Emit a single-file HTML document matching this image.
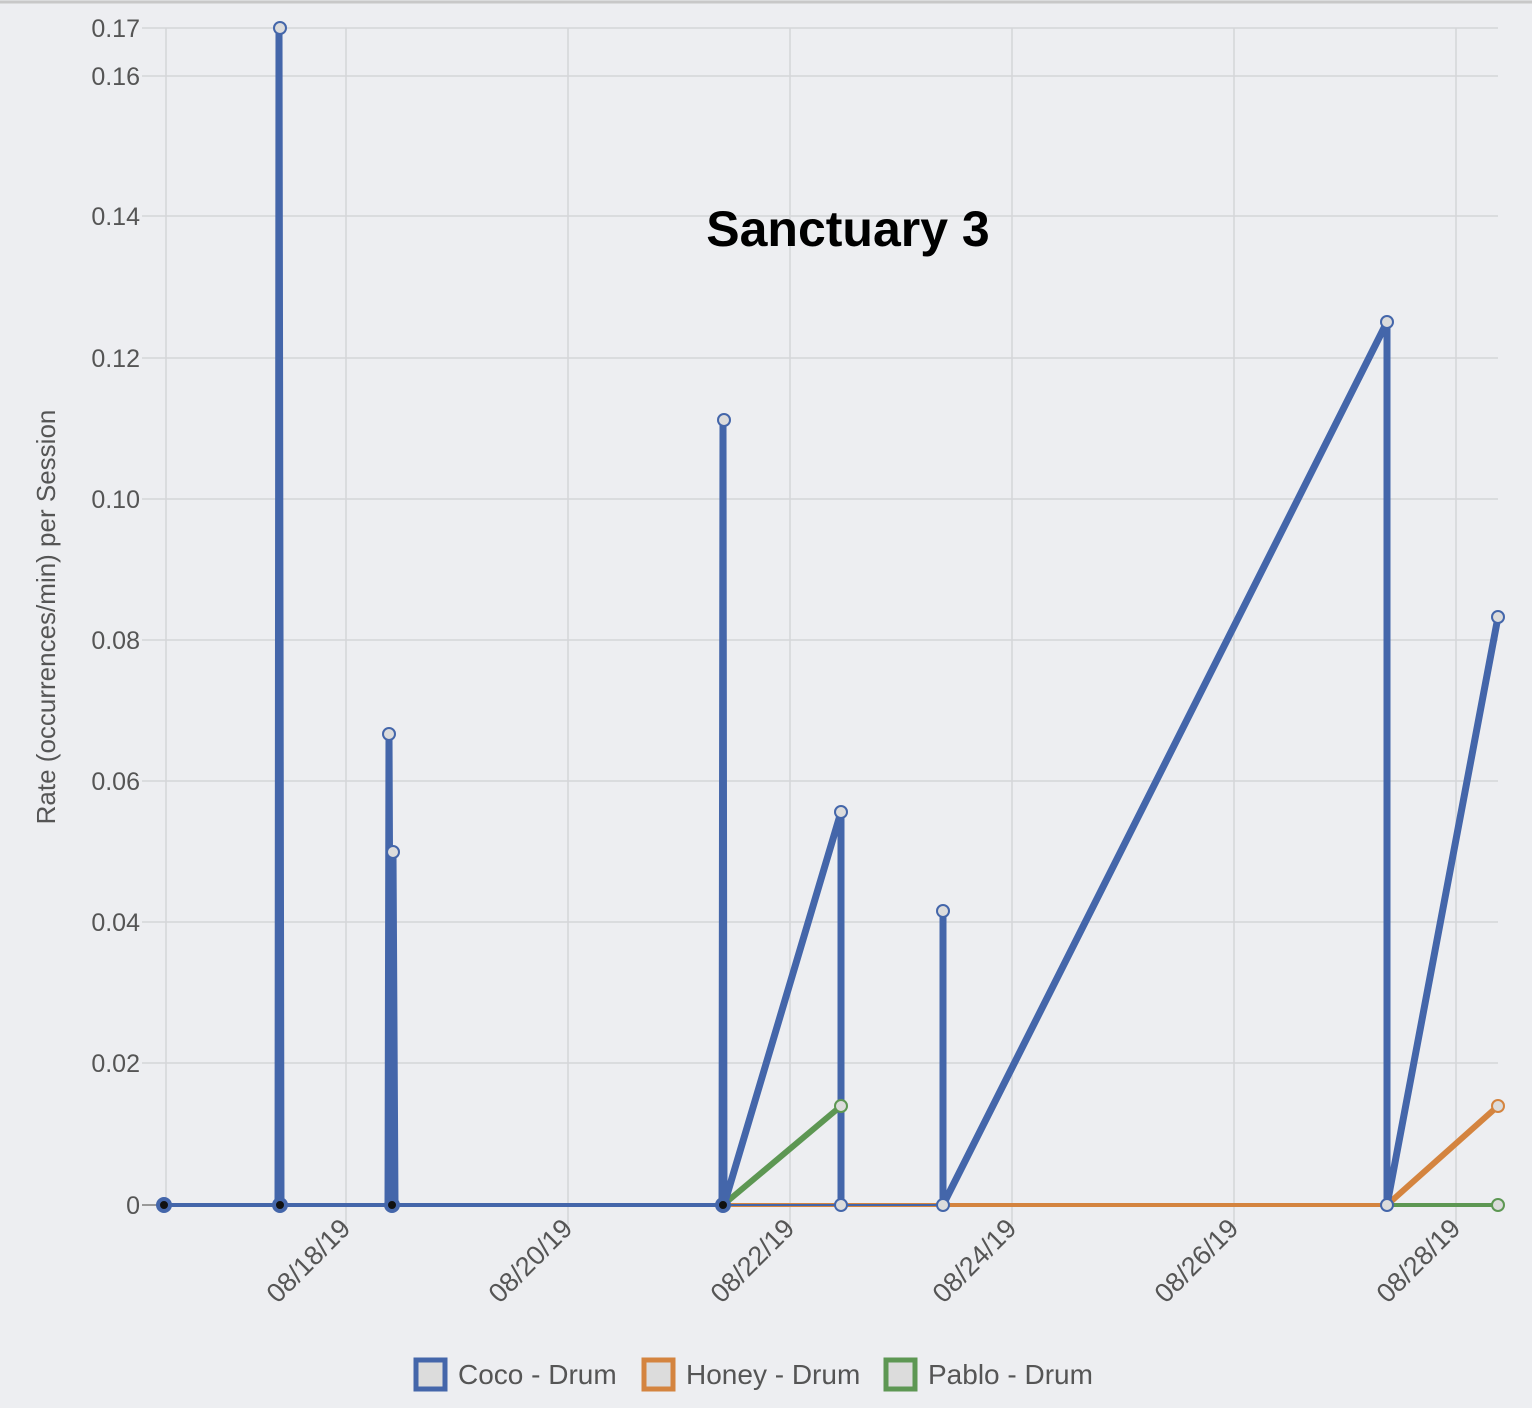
<!DOCTYPE html>
<html><head><meta charset="utf-8"><style>
html,body{margin:0;padding:0;background:#edeef1;}
svg{display:block;font-family:"Liberation Sans",sans-serif;}
</style></head><body>
<svg width="1532" height="1408" viewBox="0 0 1532 1408">
<rect width="1532" height="1408" fill="#edeef1"/>
<line x1="0" y1="2" x2="1532" y2="2" stroke="#c8c8c8" stroke-width="3"/>
<g stroke="#d4d5d8" stroke-width="1.5">
<line x1="142" y1="28" x2="1498" y2="28"/>
<line x1="142" y1="76" x2="1498" y2="76"/>
<line x1="142" y1="216" x2="1498" y2="216"/>
<line x1="142" y1="358" x2="1498" y2="358"/>
<line x1="142" y1="499" x2="1498" y2="499"/>
<line x1="142" y1="640" x2="1498" y2="640"/>
<line x1="142" y1="781" x2="1498" y2="781"/>
<line x1="142" y1="922" x2="1498" y2="922"/>
<line x1="142" y1="1063" x2="1498" y2="1063"/>
<line x1="166" y1="28" x2="166" y2="1205"/>
<line x1="346" y1="28" x2="346" y2="1225"/>
<line x1="568" y1="28" x2="568" y2="1225"/>
<line x1="790" y1="28" x2="790" y2="1225"/>
<line x1="1012" y1="28" x2="1012" y2="1225"/>
<line x1="1234" y1="28" x2="1234" y2="1225"/>
<line x1="1456" y1="28" x2="1456" y2="1225"/>
</g>
<line x1="142" y1="1205" x2="1498" y2="1205" stroke="#999" stroke-width="2"/>
<g fill="#555" font-size="25" text-anchor="end">
<text x="140" y="37">0.17</text>
<text x="140" y="85">0.16</text>
<text x="140" y="225">0.14</text>
<text x="140" y="367">0.12</text>
<text x="140" y="508">0.10</text>
<text x="140" y="649">0.08</text>
<text x="140" y="790">0.06</text>
<text x="140" y="931">0.04</text>
<text x="140" y="1072">0.02</text>
<text x="140" y="1214">0</text>
</g>
<text transform="translate(55,617) rotate(-90)" fill="#555" font-size="26" text-anchor="middle">Rate (occurrences/min) per Session</text>
<g fill="#555" font-size="27" text-anchor="end">
<text transform="translate(352,1230) rotate(-45)">08/18/19</text>
<text transform="translate(574,1230) rotate(-45)">08/20/19</text>
<text transform="translate(796,1230) rotate(-45)">08/22/19</text>
<text transform="translate(1018,1230) rotate(-45)">08/24/19</text>
<text transform="translate(1240,1230) rotate(-45)">08/26/19</text>
<text transform="translate(1462,1230) rotate(-45)">08/28/19</text>
</g>
<text x="848" y="246" font-size="50" font-weight="bold" text-anchor="middle" fill="#000">Sanctuary 3</text>
<!-- orange -->
<polyline points="723,1205 1387,1205 1498,1106" fill="none" stroke="#d4843f" stroke-width="4"/>
<polyline points="1387,1205 1498,1106" fill="none" stroke="#d4843f" stroke-width="6"/>
<!-- green -->
<polyline points="723,1205 841,1106" fill="none" stroke="#5d9753" stroke-width="6"/>
<polyline points="1387,1205 1498,1205" fill="none" stroke="#5d9753" stroke-width="4"/>
<!-- blue baseline -->
<line x1="164" y1="1205" x2="723" y2="1205" stroke="#4466aa" stroke-width="4"/>
<line x1="723" y1="1205" x2="943" y2="1205" stroke="#4466aa" stroke-width="2"/>
<g fill="none" stroke="#4466aa" stroke-width="7" stroke-linejoin="miter">
<polyline points="278,1205 279,28 281,1205"/>
<polyline points="388,1205 389,734 391,1205"/>
<polyline points="392,1205 393,852 395,1205"/>
<polyline points="722,1205 723,420 724,1205 841,812 841,1205"/>
<polyline points="943,1205 943,911 943,1205 1387,322 1387,1205 1498,617"/>
</g>
<g fill="#dcdcdc" stroke="#4466aa" stroke-width="2">
<circle cx="280" cy="28" r="6"/><circle cx="389" cy="734" r="6"/><circle cx="393" cy="852" r="6"/>
<circle cx="724" cy="420" r="6"/><circle cx="841" cy="812" r="6"/><circle cx="943" cy="911" r="6"/>
<circle cx="1387" cy="322" r="6"/><circle cx="1498" cy="617" r="6"/>
<circle cx="841" cy="1205" r="6"/><circle cx="943" cy="1205" r="6"/><circle cx="1387" cy="1205" r="6"/>
</g>
<circle cx="841" cy="1106" r="6" fill="#dcdcdc" stroke="#5d9753" stroke-width="2"/>
<circle cx="1498" cy="1205" r="6" fill="#dcdcdc" stroke="#5d9753" stroke-width="2"/>
<circle cx="1498" cy="1106" r="6" fill="#dcdcdc" stroke="#d4843f" stroke-width="2"/>
<g fill="#111" stroke="#4466aa" stroke-width="4">
<circle cx="164" cy="1205" r="6"/><circle cx="280" cy="1205" r="6"/><circle cx="392" cy="1205" r="6"/><circle cx="723" cy="1205" r="6"/>
</g>
<g font-size="28" fill="#555">
<rect x="416" y="1360" width="29" height="29" fill="#dcdcdc" stroke="#4466aa" stroke-width="5"/>
<text x="458" y="1384">Coco - Drum</text>
<rect x="644" y="1360" width="29" height="29" fill="#dcdcdc" stroke="#d4843f" stroke-width="5"/>
<text x="686" y="1384">Honey - Drum</text>
<rect x="886" y="1360" width="29" height="29" fill="#dcdcdc" stroke="#5d9753" stroke-width="5"/>
<text x="928" y="1384">Pablo - Drum</text>
</g>
</svg>
</body></html>
